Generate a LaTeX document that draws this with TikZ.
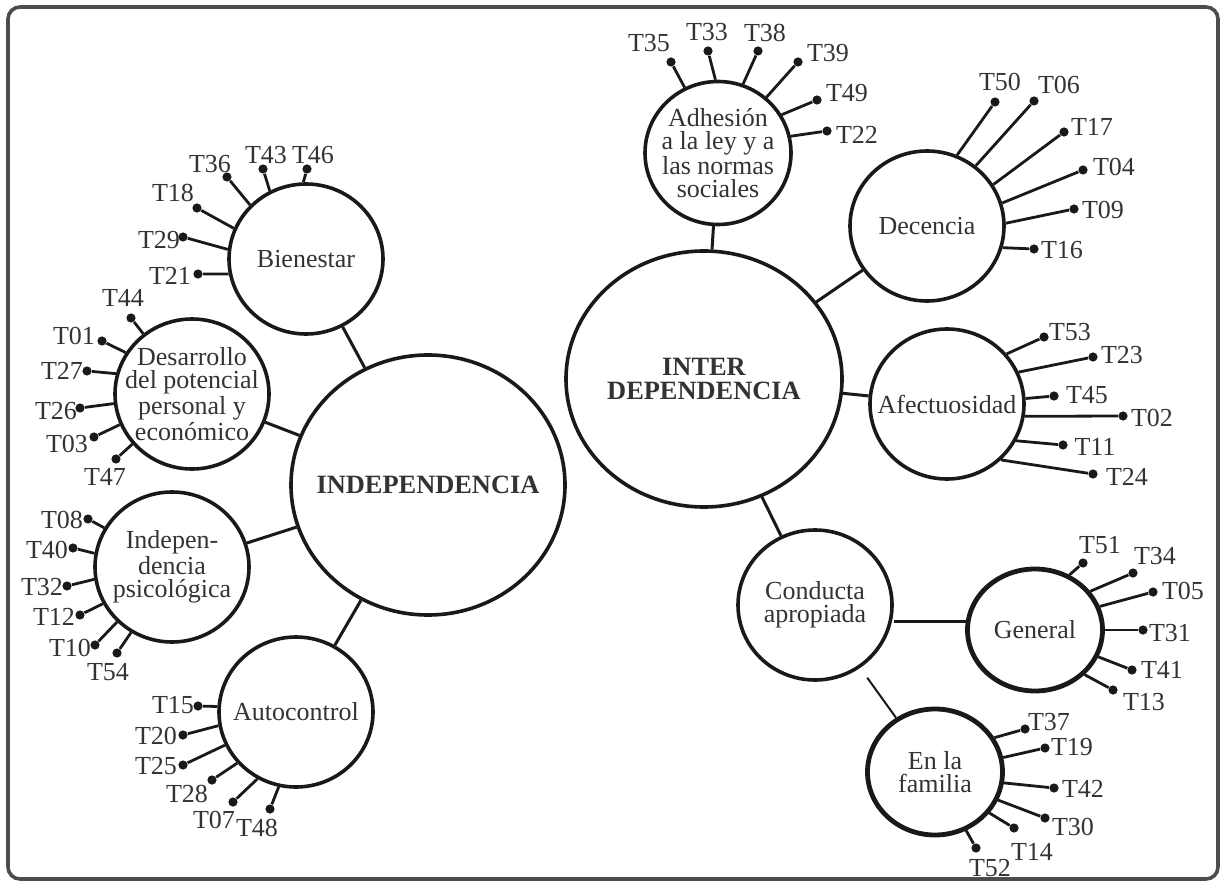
\documentclass[tikz,border=0pt]{standalone}
\usepackage{fontspec}
\setmainfont{Liberation Serif}
\usetikzlibrary{shapes}
\tikzset{
        hub/.style = {draw=black!90, ellipse, line width=1.8pt, minimum width=137pt, minimum height=130pt, inner sep=0pt},
        topic/.style = {draw=black!90, ellipse, line width=1.8pt, minimum width=77pt, minimum height=75pt, inner sep=0pt},
        subtopic/.style = {draw=black!90, ellipse, line width=2.4pt, minimum width=67.5pt, minimum height=61pt, inner sep=0pt},
        item/.style = {circle, fill=black!90, inner sep=0pt, minimum size=4.6pt},
        tag/.style = {align=center, text=black!80},
        hubtag/.style = {align=center, text=black!80, font=\fontsize{13.2}{12.2}\selectfont\bfseries},
        link/.style = {draw=black!90, line width=1.5pt},
        spoke/.style = {draw=black!90, line width=1.4pt},
        frame/.style = {draw=black!70, line width=1.8pt, rounded corners=6pt},
        every label/.style = {text=black!80, inner sep=0pt},
    }

\begin{document}
\begin{tikzpicture}[x=0.5pt, y=-0.5pt, font=\fontsize{13}{11.5}\selectfont]
    \useasboundingbox (0,0) rectangle (1221,882);
    \draw [frame] (8,7) rectangle (1218,879);

    % two hubs
    \node [hub, label={[hubtag]center:INDEPENDENCIA}] (indep) at (428,485) {};
    \node [hub, minimum width=138pt, minimum height=128pt, label={[hubtag]center:INTER\\DEPENDENCIA}] (inter) at (704,379) {};

    % topics
    \node [topic, label={[tag]center:Bienestar}] (bien) at (306,259) {};
    \node [topic, label={[tag]center:Desarrollo\\del potencial\\personal y\\económico}] (desa) at (192,394) {};
    \node [topic, label={[tag]center:Indepen-\\dencia\\psicológica}] (psico) at (172,567) {};
    \node [topic, label={[tag]center:Autocontrol}] (auto) at (296,712) {};
    \node [topic, minimum width=73pt, minimum height=71.5pt, label={[tag]center:Adhesión\\a la ley y a\\las normas\\sociales}] (adh) at (718,153) {};
    \node [topic, label={[tag]center:Decencia}] (dec) at (927,226) {};
    \node [topic, label={[tag]center:Afectuosidad}] (afe) at (947,404) {};
    \node [topic, label={[tag]center:Conducta\\apropiada}] (cond) at (815,605) {};
    \node [subtopic, label={[tag]center:General}] (gen) at (1035,630) {};
    \node [subtopic, minimum height=63pt, label={[tag]center:En la\\familia}] (fam) at (935,772) {};

    \draw [link] (bien) -- (indep);
    \draw [link] (desa) -- (indep);
    \draw [link] (psico) -- (indep);
    \draw [link] (auto) -- (indep);
    \draw [link] (adh) -- (inter);
    \draw [link] (dec) -- (inter);
    \draw [link] (afe) -- (inter);
    \draw [link] (inter) -- (cond);
    \draw [link] (gen.173) -- (gen.173 -| cond.east);
    \draw [link, line width=1pt, shorten <=6pt] (cond) -- (fam);

    % items: border angle / x / y / label shift / name
    \foreach \ang/\px/\py/\dx/\dy/\lab in {92/307/169/6/-14/T46, 118/263/169/3/-14/T43, 136/227/177/-17/-13/T36,
        157/197/208/-24/-15/T18, 173/183/237/-24/3/T29, 191/198/274/-28/2/T21}
        {\node [item, label={[shift={(\dx,\dy)}]center:\lab}] (\lab) at (\px,\py) {}; \draw [spoke] (bien.\ang) -- (\lab);}
    \foreach \ang/\px/\py/\dx/\dy/\lab in {129/131/318/-8/-20/T44, 148/102/341/-28/-5/T01, 165/87/371/-25/0/T27,
        187/80/408/-24/3/T26, 203/94/437/-27/7/T03, 220/116/459/-11/18/T47}
        {\node [item, label={[shift={(\dx,\dy)}]center:\lab}] (\lab) at (\px,\py) {}; \draw [spoke] (desa.\ang) -- (\lab);}
    \foreach \ang/\px/\py/\dx/\dy/\lab in {150/88/519/-26/1/T08, 170/73/548/-26/2/T40, 189/67/586/-25/1/T32,
        208/80/615/-26/2/T12, 225/95/645/-25/3/T10, 238/117/653/-9/19/T54}
        {\node [item, label={[shift={(\dx,\dy)}]center:\lab}] (\lab) at (\px,\py) {}; \draw [spoke] (psico.\ang) -- (\lab);}
    \foreach \ang/\px/\py/\dx/\dy/\lab in {176/198/706/-25/-1/T15, 190/183/735/-27/1/T20, 205/183/765/-27/1/T25,
        221/212/780/-25/14/T28, 240/233/802/-19/18/T07, 257/270/809/-13/19/T48}
        {\node [item, label={[shift={(\dx,\dy)}]center:\lab}] (\lab) at (\px,\py) {}; \draw [spoke] (auto.\ang) -- (\lab);}
    \foreach \ang/\px/\py/\dx/\dy/\lab in {117/671/62/-22/-19/T35, 92/708/51/-1/-19/T33, 70/758/51/7/-18/T38,
        49/798/62/30/-9/T39, 31/817/100/30/-7/T49, 13/827/131/30/4/T22}
        {\node [item, label={[shift={(\dx,\dy)}]center:\lab}] (\lab) at (\px,\py) {}; \draw [spoke] (adh.\ang) -- (\lab);}
    \foreach \ang/\px/\py/\dx/\dy/\lab in {67/995/102/5/-20/T50, 51/1034/101/25/-16/T06, 32/1064/132/28/-5/T17,
        17/1083/170/31/-3/T04, 2/1074/209/29/1/T09, -16/1034/249/28/1/T16}
        {\node [item, label={[shift={(\dx,\dy)}]center:\lab}] (\lab) at (\px,\py) {}; \draw [spoke] (dec.\ang) -- (\lab);}
    \foreach \ang/\px/\py/\dx/\dy/\lab in {40/1044/337/26/-5/T53, 24/1093/357/29/-2/T23, 4/1054/396/33/-1/T45,
        -9/1123/416/29/2/T02, -28/1063/445/32/2/T11, -46/1093/474/34/3/T24}
        {\node [item, label={[shift={(\dx,\dy)}]center:\lab}] (\lab) at (\px,\py) {}; \draw [spoke] (afe.\ang) -- (\lab);}
    \foreach \ang/\px/\py/\dx/\dy/\lab in {58/1083/563/17/-18/T51, 35/1133/573/22/-17/T34, 20/1153/592/30/-1/T05,
        0/1143/630/27/3/T31, -23/1132/670/30/0/T41, -42/1113/690/31/12/T13}
        {\node [item, label={[shift={(\dx,\dy)}]center:\lab}] (\lab) at (\px,\py) {}; \draw [spoke] (gen.\ang) -- (\lab);}
    \foreach \ang/\px/\py/\dx/\dy/\lab in {30/1025/729/24/-7/T37, 12/1045/748/27/-1/T19, -9/1054/788/29/1/T42,
        -24/1045/818/28/9/T30, -37/1014/828/18/24/T14, -62/976/848/14/20/T52}
        {\node [item, label={[shift={(\dx,\dy)}]center:\lab}] (\lab) at (\px,\py) {}; \draw [spoke] (fam.\ang) -- (\lab);}

\end{tikzpicture}
\end{document}
